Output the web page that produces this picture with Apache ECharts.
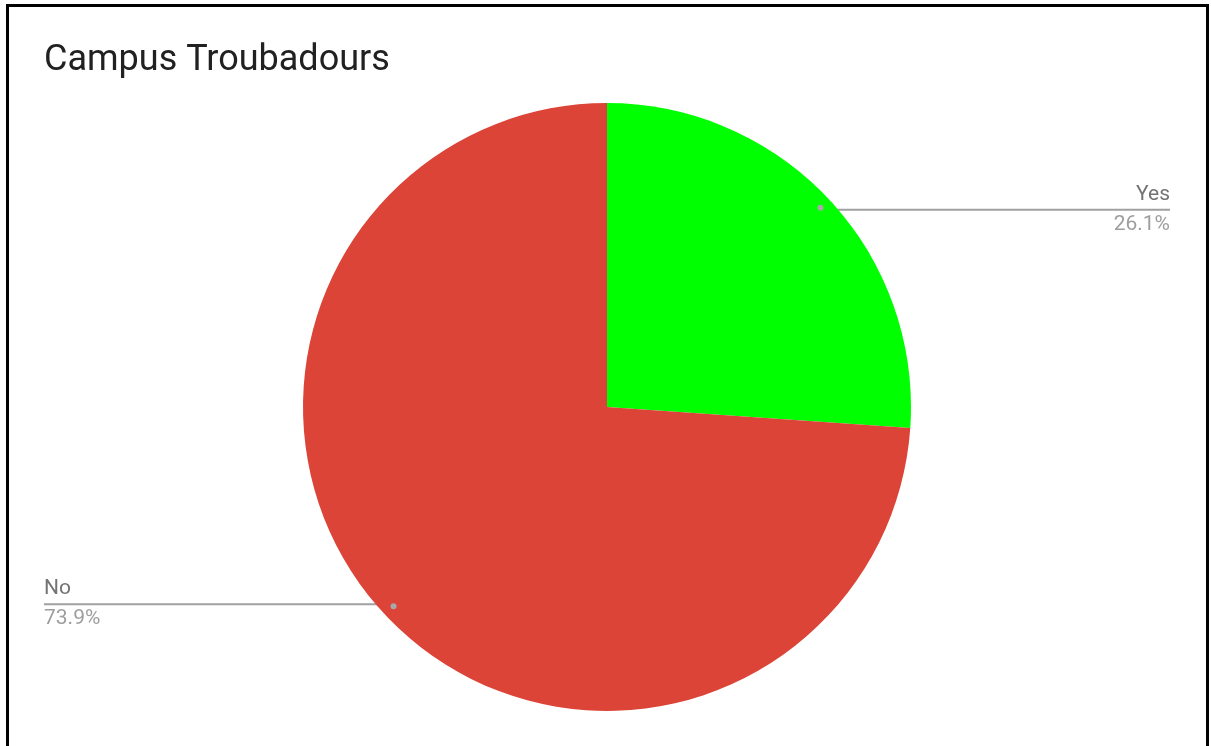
<!DOCTYPE html>
<html>
<head>
<meta charset="utf-8">
<title>Campus Troubadours</title>
<script src="https://cdn.jsdelivr.net/npm/echarts@6/dist/echarts.min.js"></script>
<style>
  html, body { margin: 0; padding: 0; background: #ffffff; overflow: hidden; }
  #chart { position: absolute; left: 0; top: 0; width: 1211px; height: 746px; }
  #frame {
    position: absolute; left: 6px; top: 4px; width: 1197px; height: 800px;
    border: 3px solid #000000; border-bottom: none; pointer-events: none;
  }
</style>
</head>
<body>
<div id="chart"></div>
<div id="frame"></div>
<script>
// Survey answers and their shares (percent)
const chartTitle = 'Campus Troubadours';
const categories = ['Yes', 'No'];
const shares = [26.1, 73.9];
const sliceColors = ['#00ff00', '#db4437'];

// Pie geometry
const CX = 607, CY = 407, R = 304;
const TAG_R = 289;          // radius where the leader lines begin
const EDGE_LEFT = 44;       // left label edge
const EDGE_RIGHT = 41;      // right label edge, measured from the right side

const chart = echarts.init(document.getElementById('chart'), null, { renderer: 'canvas' });

const pieData = categories.map((name, i) => ({
  name: name,
  value: shares[i],
  itemStyle: { color: sliceColors[i] }
}));
const ghostData = categories.map((name, i) => ({
  name: name,
  value: shares[i],
  itemStyle: { color: 'rgba(0,0,0,0)' }
}));

// Leader line: from the inner point straight across to the chart edge,
// with the name above the line and the percentage below it.
function tagLayout(p) {
  const pts = p.labelLinePoints;
  if (!pts) return {};
  const sx = pts[0][0], sy = pts[0][1];
  const onRight = sx > CX;
  const ex = onRight ? chart.getWidth() - EDGE_RIGHT : EDGE_LEFT;
  return {
    x: ex,
    y: sy,
    align: onRight ? 'right' : 'left',
    verticalAlign: 'middle',
    labelLinePoints: [[sx, sy], [sx, sy], [ex, sy]]
  };
}

const option = {
  backgroundColor: '#ffffff',
  animation: false,
  title: {
    text: chartTitle,
    left: 39,
    top: 38,
    textStyle: { fontFamily: 'Roboto', fontSize: 36, fontWeight: 'normal', color: '#212121' }
  },
  series: [
    {
      type: 'pie',
      center: [CX, CY],
      radius: R,
      startAngle: 90,
      clockwise: true,
      silent: true,
      data: pieData,
      itemStyle: { borderWidth: 0 },
      label: { show: false },
      labelLine: { show: false }
    },
    {
      type: 'pie',
      center: [CX, CY],
      radius: TAG_R,
      startAngle: 90,
      clockwise: true,
      silent: true,
      avoidLabelOverlap: false,
      data: ghostData,
      label: {
        show: true,
        position: 'outside',
        fontFamily: 'Roboto',
        formatter: p => '{n|' + p.name + '}\n{p|' + p.value.toFixed(1) + '%}',
        rich: {
          n: { fontFamily: 'Roboto', fontSize: 21, lineHeight: 30, color: '#737373' },
          p: { fontFamily: 'Roboto', fontSize: 21, lineHeight: 30, color: '#9e9e9e' }
        }
      },
      labelLine: {
        show: true,
        length: 0,
        length2: 10,
        lineStyle: { color: '#a0a0a0', width: 2 }
      },
      labelLayout: tagLayout
    },
    {
      type: 'pie',
      center: [CX, CY],
      radius: [TAG_R - 6, TAG_R + 6],
      startAngle: 90,
      clockwise: true,
      silent: true,
      data: ghostData,
      label: {
        show: true,
        position: 'inside',
        formatter: '{dot|}',
        rich: {
          dot: { width: 6, height: 6, borderRadius: 3, backgroundColor: '#a8a8a8' }
        }
      },
      labelLine: { show: false }
    }
  ]
};

chart.setOption(option);
</script>
</body>
</html>
